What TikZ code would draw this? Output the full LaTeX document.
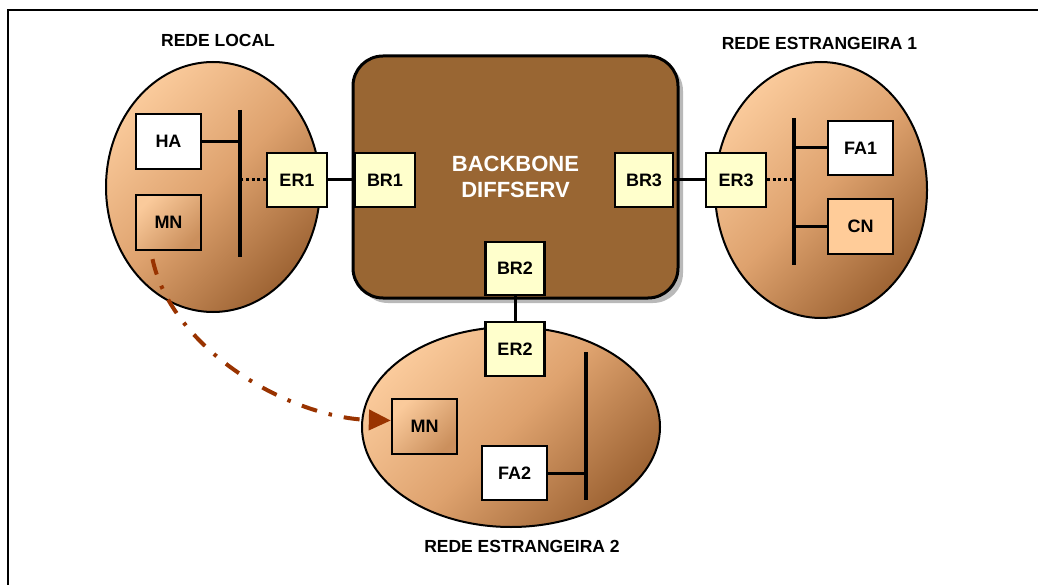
\documentclass[tikz,border=0pt]{standalone}
\usepackage{fontspec}
\setmainfont{Liberation Sans}
\usetikzlibrary{shapes.geometric,arrows.meta,calc,shadows}

\definecolor{peachL}{RGB}{250,202,155}
\definecolor{peachM}{RGB}{222,162,110}
\definecolor{peachD}{RGB}{158,100,52}
\definecolor{routerfill}{RGB}{255,255,204}
\definecolor{bbfill}{RGB}{153,102,51}
\definecolor{cnfill}{RGB}{255,204,153}
\definecolor{flow}{RGB}{153,51,0}

\begin{document}
\begin{tikzpicture}[x=1pt,y=-1pt,
  net/.style={ellipse, draw=black, line width=2pt, inner sep=0pt,
    top color=peachL, bottom color=peachD, middle color=peachM, shading angle=45},
  bbox/.style={rectangle, rounded corners=30pt, draw=black, line width=3pt,
    fill=bbfill, minimum width=325pt, minimum height=242pt, inner sep=0pt,
    text=white, align=center, font=\fontsize{22}{26}\selectfont\bfseries,
    drop shadow={shadow xshift=5pt, shadow yshift=-5pt, fill=black!50, opacity=0.55}},
  boxlbl/.style={font=\fontsize{18}{21}\selectfont\bfseries, inner sep=0pt},
  router/.style={boxlbl, rectangle, draw=black, line width=2.3pt, fill=routerfill,
    minimum width=60pt, minimum height=54pt},
  host/.style={boxlbl, rectangle, draw=black, line width=2.3pt, fill=white,
    minimum width=65pt, minimum height=55pt},
  mobile/.style={host, top color=peachL, bottom color=peachM!70!peachD, shading angle=45},
  corr/.style={host, fill=cnfill},
  title/.style={font=\fontsize{17.5}{21}\selectfont\bfseries, inner sep=0pt},
  bus/.style={line width=4.5pt},
  link/.style={line width=3pt},
  dotlink/.style={line width=3pt, dash pattern=on 3pt off 2.6pt},
  flowline/.style={draw=flow, line width=4pt, dash pattern=on 16pt off 12pt on 3.5pt off 12pt,
    -{Triangle[length=22pt,width=20pt]}}
]
\path[use as bounding box] (0,0) rectangle (1038,585);

% page frame
\draw[line width=2.5pt] (8,585) -- (8,10) -- (1038,10);

% network clouds
\node[net, minimum width=214pt, minimum height=250pt] (lan) at (213,187) {};
\node[net, minimum width=212pt, minimum height=256pt] (fn1) at (821,190) {};
\node[net, minimum width=298pt, minimum height=200pt] (fn2) at (511,427) {};

% network titles
\node[title] (tlan) at (218,40.7) {REDE LOCAL};
\node[title] (tfn1) at (819.5,43) {REDE ESTRANGEIRA 1};
\node[title] (tfn2) at (522,546.5) {REDE ESTRANGEIRA 2};

% backbone
\node[bbox] (bb) at (515.5,177) {BACKBONE\\DIFFSERV};

% bus segments
\coordinate (lanTop) at (240,110);  \coordinate (lanBot) at (240,257);
\coordinate (fn1Top) at (794,118);  \coordinate (fn1Bot) at (794,265);
\coordinate (fn2Top) at (586,352);  \coordinate (fn2Bot) at (586,500);
\draw[bus] (lanTop) -- (lanBot);
\draw[bus] (fn1Top) -- (fn1Bot);
\draw[bus] (fn2Top) -- (fn2Bot);

% routers
\node[router] (ER1) at (297,180) {ER1};
\node[router] (BR1) at (385,180) {BR1};
\node[router, minimum width=58pt] (BR3) at (644,180) {BR3};
\node[router, minimum width=59pt, minimum height=53pt] (BR2) at (515,268.5) {BR2};
\node[router, minimum width=59pt] (ER2) at (515,349) {ER2};
\node[router] (ER3) at (736,180) {ER3};

% hosts
\node[host] (HA) at (168.5,141.5) {HA};
\node[mobile] (MN1) at (168.5,222.5) {MN};
\node[host, minimum height=54pt] (FA1) at (860.5,148) {FA1};
\node[corr] (CN) at (860.5,226.5) {CN};
\node[mobile] (MN2) at (424.5,426.5) {MN};
\node[host, minimum height=54pt] (FA2) at (514.5,473) {FA2};

% links
\draw[link] (HA.east) -- (HA.east -| lanTop);
\draw[dotlink] (ER1.west) -- (ER1.west -| lanTop);
\draw[link] (ER1.east) -- (BR1.west);
\draw[link] (BR3.east) -- (ER3.west);
\draw[link] (BR2.south) -- (ER2.north);
\draw[dotlink] (ER3.east) -- (ER3.east -| fn1Top);
\draw[link] (FA1.west) -- (FA1.west -| fn1Top);
\draw[link] (CN.west) -- (CN.west -| fn1Top);
\draw[dotlink] ($(ER2.east)+(0,17)$) -- ($(ER2.east)+(0,17)$ -| fn2Top);
\draw[link] (FA2.east) -- (FA2.east -| fn2Top);

% movement of the mobile node
\draw[flowline] ($(MN1.south)+(-16,8)$) .. controls (172,350) and (290,418) .. ($(MN2.west)+(0,-6)$);
\end{tikzpicture}
\end{document}
